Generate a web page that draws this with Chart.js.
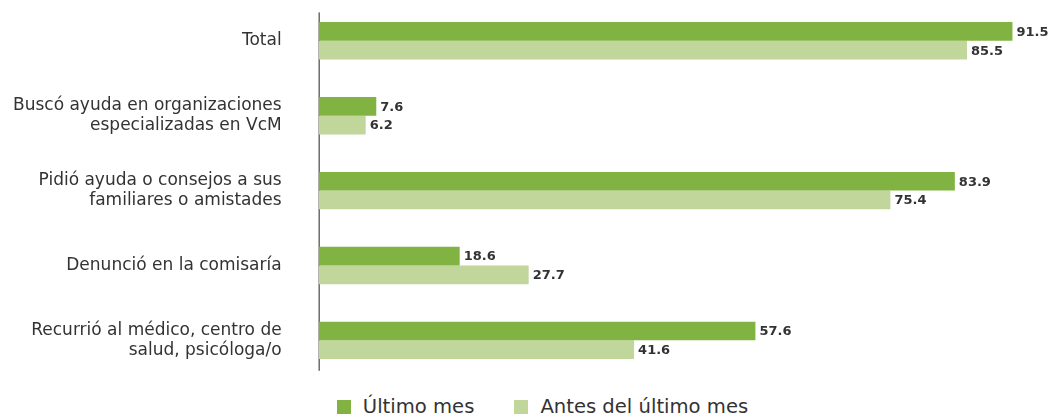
<!DOCTYPE html>
<html>
<head>
<meta charset="utf-8">
<script src="https://cdn.jsdelivr.net/npm/chart.js@4/dist/chart.umd.min.js"></script>
<style>
  html, body { margin: 0; padding: 0; background: #fff; overflow: hidden; }
  #wrap { width: 1049px; height: 417px; position: relative; overflow: hidden; }
  #box { position: absolute; left: 0; top: -17px; width: 1049px; height: 405px; }
  #legend { position: absolute; left: 18px; top: 394px; width: 1049px; display: flex; justify-content: center;
    font-family: 'DejaVu Sans', sans-serif; font-size: 19.6px; color: #333; line-height: 26px; }
  .item { display: flex; align-items: center; margin: 0 20px; }
  .sw { width: 14px; height: 14px; margin-right: 12px; }
</style>
</head>
<body>
<div id="wrap">
  <div id="box"><canvas id="chart"></canvas></div>
  <div id="legend"></div>
</div>
<script>
  const categories = [
    "Total",
    ["Buscó ayuda en organizaciones", "especializadas en VcM"],
    ["Pidió ayuda o consejos a sus", "familiares o amistades"],
    "Denunció en la comisaría",
    ["Recurrió al médico, centro de", "salud, psicóloga/o"]
  ];
  const ultimoMes = [91.5, 7.6, 83.9, 18.6, 57.6];
  const antesMes = [85.5, 6.2, 75.4, 27.7, 41.6];
  const seriesNames = ["Último mes", "Antes del último mes"];
  const seriesColors = ["#80b341", "#c0d69b"];

  const FONT = "'DejaVu Sans', sans-serif";

  // vertical axis line, a bit shorter than the plot area
  const axisLine = {
    id: "axisLine",
    beforeDatasetsDraw(chart) {
      const a = chart.chartArea;
      const ctx = chart.ctx;
      ctx.save();
      ctx.strokeStyle = "#222";
      ctx.lineWidth = 1;
      ctx.beginPath();
      ctx.moveTo(a.left + 0.5, a.top + 9);
      ctx.lineTo(a.left + 0.5, a.bottom - 7);
      ctx.stroke();
      ctx.restore();
    }
  };

  // value labels at the end of every bar
  const barLabels = {
    id: "barLabels",
    afterDatasetsDraw(chart) {
      const ctx = chart.ctx;
      ctx.save();
      ctx.font = "bold 13px " + FONT;
      ctx.fillStyle = "#333";
      ctx.textAlign = "left";
      ctx.textBaseline = "middle";
      chart.data.datasets.forEach(function (ds, i) {
        const meta = chart.getDatasetMeta(i);
        meta.data.forEach(function (bar, j) {
          ctx.fillText(ds.data[j].toFixed(1), bar.x + 4, bar.y + 1);
        });
      });
      ctx.restore();
    }
  };

  const chart = new Chart(document.getElementById("chart"), {
    type: "bar",
    data: {
      labels: categories,
      datasets: [
        { label: seriesNames[0], data: ultimoMes, backgroundColor: seriesColors[0] },
        { label: seriesNames[1], data: antesMes, backgroundColor: seriesColors[1] }
      ]
    },
    options: {
      indexAxis: "y",
      responsive: true,
      maintainAspectRatio: false,
      animation: false,
      barPercentage: 1,
      categoryPercentage: 0.5,
      layout: { padding: { top: 0, right: 10, left: 13, bottom: 0 } },
      scales: {
        x: {
          display: false,
          min: 0,
          max: 95
        },
        y: {
          grid: {
            display: true,
            drawOnChartArea: false,
            drawTicks: true,
            tickLength: 37,
            tickColor: "rgba(0,0,0,0)"
          },
          border: { display: false },
          ticks: {
            color: "#333",
            padding: 0,
            font: { family: FONT, size: 17 }
          }
        }
      },
      plugins: {
        legend: { display: false },
        tooltip: { enabled: false }
      }
    },
    plugins: [axisLine, barLabels]
  });

  const legend = document.getElementById("legend");
  seriesNames.forEach(function (name, i) {
    const item = document.createElement("span");
    item.className = "item";
    item.innerHTML = '<span class="sw" style="background:' + seriesColors[i] + '"></span>' + name;
    legend.appendChild(item);
  });
</script>
</body>
</html>
